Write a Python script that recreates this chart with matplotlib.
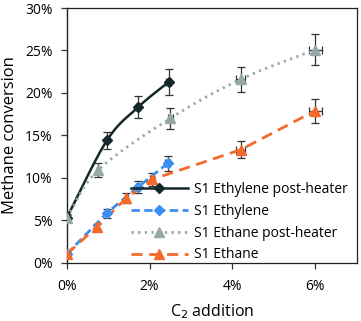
import numpy as np
import matplotlib
matplotlib.use("Agg")
import matplotlib.pyplot as plt
from matplotlib.ticker import PercentFormatter, MultipleLocator

plt.rcParams["font.family"] = ["Open Sans", "DejaVu Sans"]

# values in percent
eth_ph_x = [0.0, 0.97, 1.72, 2.46]
eth_ph_y = [5.3, 14.4, 18.3, 21.3]
eth_ph_err = [0.4, 1.0, 1.3, 1.5]

eth_x = [0.0, 0.96, 1.72, 2.44]
eth_y = [1.0, 5.8, 8.9, 11.7]
eth_err = [0.2, 0.5, 0.7, 0.9]

ethane_ph_x = [0.0, 0.76, 2.5, 4.2, 6.0]
ethane_ph_y = [5.3, 10.9, 17.0, 21.6, 25.1]
ethane_ph_err = [0.3, 0.8, 1.2, 1.5, 1.8]

ethane_x = [0.0, 0.72, 1.44, 2.06, 4.2, 6.0]
ethane_y = [1.0, 4.2, 7.6, 9.8, 13.3, 17.9]
ethane_err = [0.2, 0.4, 0.6, 0.8, 1.0, 1.4]

labels = ["S1 Ethylene post-heater", "S1 Ethylene",
          "S1 Ethane post-heater", "S1 Ethane"]


def smooth(x, y, n=30):
    # Catmull-Rom curve through the points, like a spreadsheet "smoothed line"
    p = np.column_stack([x, y]).astype(float)
    p = np.vstack([2 * p[0] - p[1], p, 2 * p[-1] - p[-2]])
    out = []
    for i in range(1, len(p) - 2):
        p0, p1, p2, p3 = p[i - 1], p[i], p[i + 1], p[i + 2]
        t = np.linspace(0, 1, n)[:, None]
        seg = 0.5 * ((2 * p1) + (-p0 + p2) * t
                     + (2 * p0 - 5 * p1 + 4 * p2 - p3) * t ** 2
                     + (-p0 + 3 * p1 - 3 * p2 + p3) * t ** 3)
        out.append(seg)
    c = np.vstack(out)
    return c[:, 0], c[:, 1]


fig = plt.figure(figsize=(3.61, 3.21), dpi=100)
ax = fig.add_axes([0.185, 0.182, 0.803, 0.793])

series = [
    (eth_ph_x, eth_ph_y, eth_ph_err, "#14272a", "-", "D", True),
    (eth_x, eth_y, eth_err, "#3b8ef0", (0, (3, 1.6)), "D", False),
    (ethane_ph_x, ethane_ph_y, ethane_ph_err, "#95a8a8", (0, (0.8, 1.6)), "^", True),
    (ethane_x, ethane_y, ethane_err, "#f5692a", (0, (4, 2.4)), "^", False),
]

handles = []
for (x, y, e, col, ls, mk, sm), lab in zip(series, labels):
    xe = [0.026 * v for v in x]
    ax.errorbar(x, y, yerr=e, xerr=xe, fmt="none", ecolor="#333333",
                elinewidth=0.9, capsize=3.2, capthick=0.9, zorder=2)
    if sm:
        sx, sy = smooth(x, y)
    else:
        sx, sy = x, y
    lw = 2.0 if ls != "-" else 1.8
    ax.plot(sx, sy, color=col, linestyle=ls, linewidth=lw, zorder=3)
    ax.plot(x, y, linestyle="none", marker=mk, color=col,
            markersize=6.5 if mk == "^" else 5.5, zorder=4)
    h, = ax.plot([], [], color=col, linestyle=ls, linewidth=lw,
                 marker=mk, markersize=6.5 if mk == "^" else 5.5)
    handles.append(h)

ax.set_xlim(0, 7)
ax.set_ylim(0, 30)
ax.xaxis.set_major_locator(MultipleLocator(2))
ax.yaxis.set_major_locator(MultipleLocator(5))
ax.xaxis.set_major_formatter(PercentFormatter(decimals=0))
ax.yaxis.set_major_formatter(PercentFormatter(decimals=0))
ax.set_xticks([0, 2, 4, 6])
ax.tick_params(labelsize=10, length=4, width=0.9, color="#333333")
ax.tick_params(axis="y", pad=6)
ax.tick_params(axis="x", pad=8)
for s in ax.spines.values():
    s.set_linewidth(0.9)
    s.set_color("#222222")
ax.spines["left"].set_linewidth(1.0)

ax.set_xlabel("C$_2$ addition", fontsize=11.5, labelpad=6)
ax.set_ylabel("Methane conversion", fontsize=12, labelpad=5)

ax.legend(handles, labels, loc="lower right", bbox_to_anchor=(1.0, -0.035),
          frameon=False, fontsize=10, handlelength=4.1, handletextpad=0.45,
          labelspacing=0.5, borderaxespad=0.25)

fig.savefig("out.png", dpi=100)
